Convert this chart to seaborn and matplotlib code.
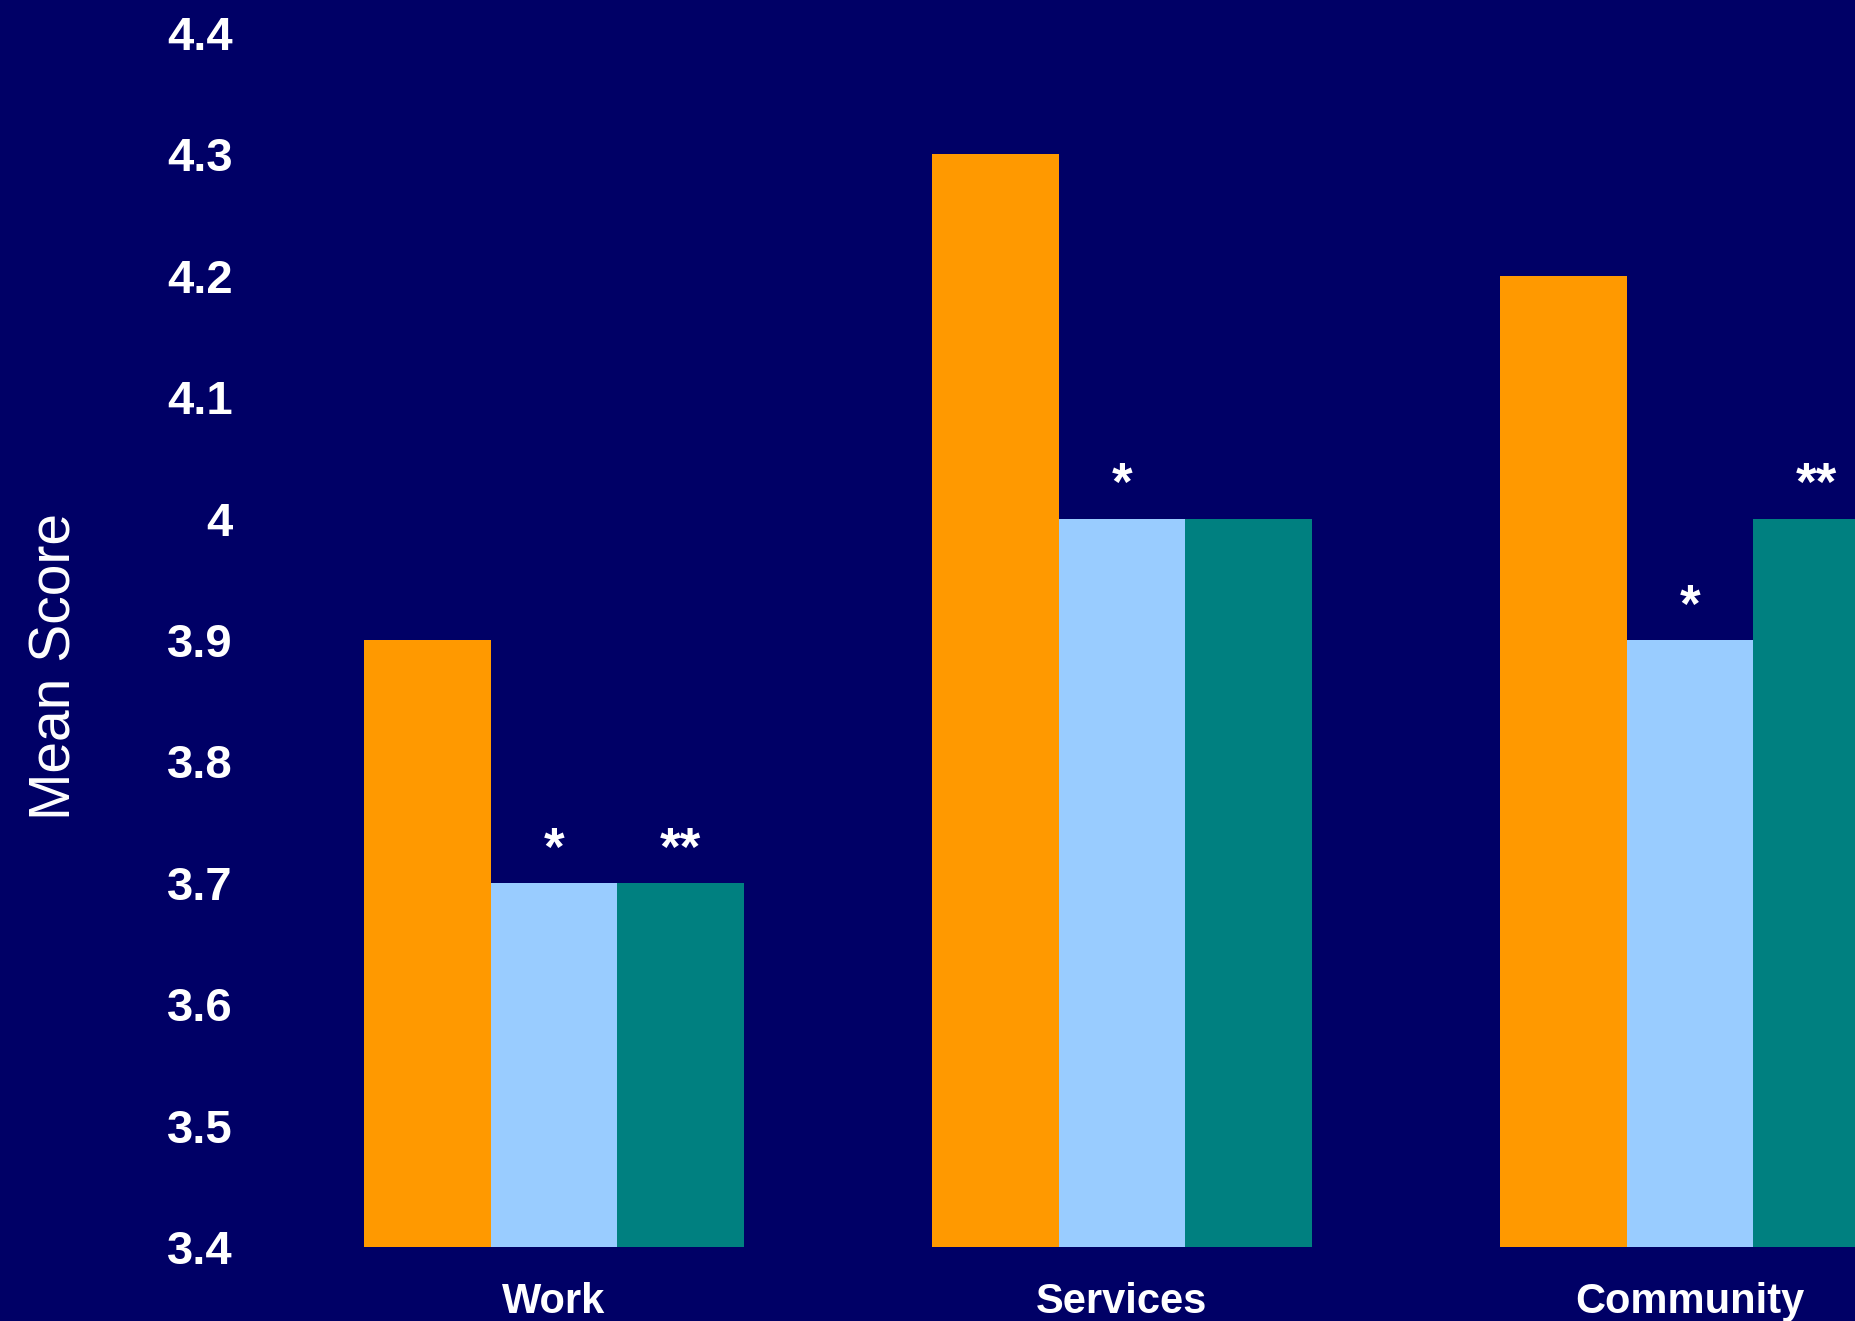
import matplotlib
matplotlib.use("Agg")
import matplotlib.pyplot as plt
import seaborn as sns
import pandas as pd

# ---- data ----
categories = ["Work", "Services", "Community"]
series_names = ["Series 1", "Series 2", "Series 3"]
series1_vals = [3.9, 4.3, 4.2]
series2_vals = [3.7, 4.0, 3.9]
series3_vals = [3.7, 4.0, 4.0]
series_marks = [["", "", ""], ["*", "*", "*"], ["**", "", "**"]]
y_ticks = [3.4, 3.5, 3.6, 3.7, 3.8, 3.9, 4.0, 4.1, 4.2, 4.3, 4.4]
y_tick_labels = ["3.4", "3.5", "3.6", "3.7", "3.8", "3.9", "4", "4.1", "4.2", "4.3", "4.4"]
y_label = "Mean Score"

colors = ["#FF9900", "#99CCFF", "#008080"]
bg = "#000066"

rows = []
for name, vals in zip(series_names, [series1_vals, series2_vals, series3_vals]):
    for c, v in zip(categories, vals):
        rows.append({"category": c, "series": name, "value": v})
df = pd.DataFrame(rows)

sns.set_style("white")
plt.rcParams["font.family"] = ["Liberation Sans", "DejaVu Sans"]

W, H = 1855, 1321
fig = plt.figure(figsize=(W / 100, H / 100), dpi=100, facecolor=bg)
ax = fig.add_axes([270 / W, 74 / H, 1704 / W, 1214 / H])
ax.set_facecolor(bg)

sns.barplot(data=df, x="category", y="value", hue="series", order=categories,
            hue_order=series_names, palette=colors, width=0.67, gap=0,
            saturation=1, legend=False, linewidth=0, ax=ax)

ax.set_xlim(-0.5, 2.5)
ax.set_ylim(3.4, 4.4)
ax.set_yticks(y_ticks)
ax.set_yticklabels(y_tick_labels, fontsize=34, fontweight="bold", color="white")
ax.tick_params(axis="y", length=0, pad=27)
ax.tick_params(axis="x", length=0, pad=25)
for lbl in ax.get_xticklabels():
    lbl.set_fontsize(30)
    lbl.set_fontweight("bold")
    lbl.set_color("white")
ax.set_xlabel("")
ax.set_ylabel("")
for s in ax.spines.values():
    s.set_visible(False)

fig.text(56 / W, 1 - 667 / H, y_label, rotation=90, fontsize=41, color="white",
         ha="center", va="center")

# significance marks
for container, marks in zip(ax.containers, series_marks):
    for bar, m in zip(container, marks):
        if m:
            ax.text(bar.get_x() + bar.get_width() / 2, bar.get_height() + 0.015, m,
                    ha="center", va="baseline", fontsize=38, fontweight="bold", color="white")

fig.savefig("out.png", dpi=100, facecolor=bg)
